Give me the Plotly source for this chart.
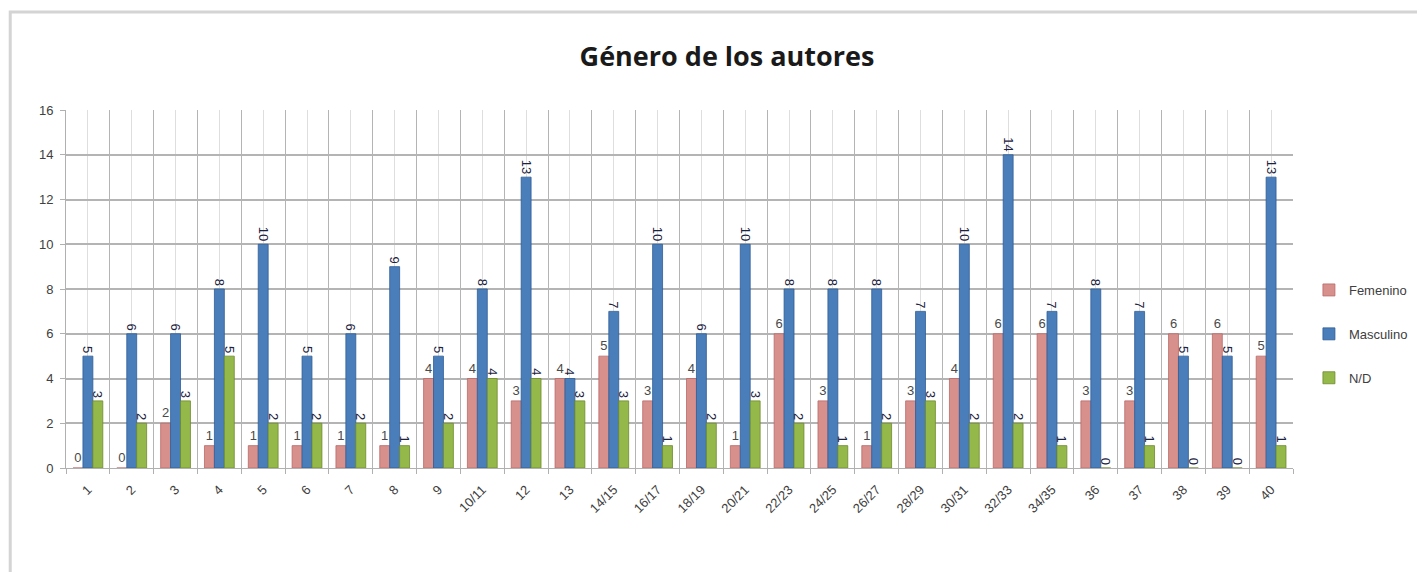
import plotly.graph_objects as go

categories = ["1", "2", "3", "4", "5", "6", "7", "8", "9", "10/11", "12", "13",
              "14/15", "16/17", "18/19", "20/21", "22/23", "24/25", "26/27",
              "28/29", "30/31", "32/33", "34/35", "36", "37", "38", "39", "40"]
femenino = [0, 0, 2, 1, 1, 1, 1, 1, 4, 4, 3, 4, 5, 3, 4, 1, 6, 3, 1, 3, 4, 6, 6, 3, 3, 6, 6, 5]
masculino = [5, 6, 6, 8, 10, 5, 6, 9, 5, 8, 13, 4, 7, 10, 6, 10, 8, 8, 8, 7, 10, 14, 7, 8, 7, 5, 5, 13]
nd = [3, 2, 3, 5, 2, 2, 2, 1, 2, 4, 4, 3, 3, 1, 2, 3, 2, 1, 2, 3, 2, 2, 1, 0, 1, 0, 0, 1]
y_ticks = [0, 2, 4, 6, 8, 10, 12, 14, 16]

idx = list(range(len(categories)))

OFF = 8  # page body margin
W, H = 1425 - OFF, 572 - OFF
L, R, T, B = 66 - OFF, 1425 - 1298, 110 - OFF, 572 - 468
pw, ph = W - L - R, H - T - B

fig = go.Figure()
series = [
    ("Femenino", femenino, "#d8908d", "#b86a67", 0, "#4a4a4a"),
    ("Masculino", masculino, "#4a7ebb", "#2f5d95", 90, "#1c2240"),
    ("N/D", nd, "#95b84a", "#6d8a2c", 90, "#1c2240"),
]
for name, vals, col, lcol, ang, tcol in series:
    fig.add_trace(go.Bar(
        x=idx, y=vals, name=name, legendgroup=name,
        marker=dict(color=col, line=dict(color=lcol, width=0.8)),
        text=[str(v) for v in vals], textposition="outside", textangle=ang,
        constraintext="none",
        textfont=dict(family="Liberation Sans", size=13, color=tcol),
        cliponaxis=False,
    ))

def px2paper_x(px):
    return (px - OFF - L) / pw

def px2paper_y(py):
    return (H - B - (py - OFF)) / ph

fig.add_shape(type="rect", xref="paper", yref="paper",
              x0=px2paper_x(10), x1=px2paper_x(1440),
              y0=px2paper_y(590), y1=px2paper_y(12),
              line=dict(color="#d4d4d4", width=3), layer="below")

fig.update_layout(
    width=W, height=H,
    margin=dict(l=L, r=R, t=T, b=B),
    paper_bgcolor="white", plot_bgcolor="white",
    barmode="group", bargap=0.32, bargroupgap=0,
    title=dict(text="<b>Género de los autores</b>", x=(727 - OFF) / W, xanchor="center",
               y=1 - (57 - OFF) / H, yanchor="middle",
               font=dict(family="Open Sans", size=27, color="#1a1a1a")),
    legend=dict(x=px2paper_x(1314), xanchor="left", y=px2paper_y(275), yanchor="top",
                font=dict(family="Liberation Sans", size=13, color="#404040"),
                tracegroupgap=24, bgcolor="rgba(0,0,0,0)"),
    showlegend=True,
)
fig.update_xaxes(
    range=[-0.5, len(categories) - 0.5],
    tickvals=idx, ticktext=categories, tickangle=-45, ticks="",
    ticklabelstandoff=8,
    tickfont=dict(family="Liberation Sans", size=13, color="#404040"),
    showgrid=True, gridcolor="#dedede", gridwidth=1,
    minor=dict(tick0=0.5, dtick=1, ticks="outside", ticklen=5, tickcolor="#b0b0b0",
               showgrid=True, gridcolor="#b4b4b4", gridwidth=1),
    showline=True, linecolor="#b0b0b0", linewidth=1, zeroline=False,
)
fig.update_yaxes(
    range=[0, 16], tickvals=y_ticks, ticks="outside", ticklen=5, tickcolor="#b0b0b0",
    ticklabelstandoff=4,
    tickfont=dict(family="Liberation Sans", size=13, color="#404040"),
    showgrid=True, gridcolor="#b4b4b4", gridwidth=2,
    showline=True, linecolor="#b0b0b0", linewidth=1, zeroline=False,
)

fig.write_html("out.html")
